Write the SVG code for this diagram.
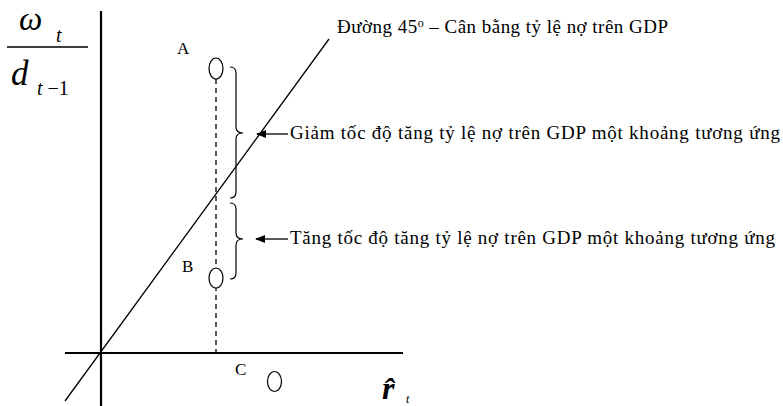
<svg xmlns="http://www.w3.org/2000/svg" width="783" height="406" viewBox="0 0 783 406">
<style>
.lbl{font-family:"Liberation Serif",serif;font-size:19px;fill:#000}
.pt{font-family:"Liberation Serif",serif;font-size:17px;fill:#000}
.math{font-family:"Liberation Serif",serif;font-style:italic;fill:#000}
.thin{stroke:#000;stroke-width:1.3;fill:none}
.axis{stroke:#000;stroke-width:2.2;fill:none}
.brace{stroke:#000;stroke-width:1.2;fill:none}
.node{stroke:#000;stroke-width:1.2;fill:#fff}
</style>
<defs>
<marker id="ah" markerWidth="10" markerHeight="8" refX="9" refY="4" orient="auto" markerUnits="userSpaceOnUse">
<path d="M0,0 L10,4 L0,8 Z" fill="#000"/>
</marker>
</defs>
<g id="connectors">
<line class="axis" x1="101" y1="11" x2="101" y2="406"/>
<line class="axis" x1="65" y1="353" x2="403" y2="353"/>
<line class="thin" x1="65" y1="401" x2="329" y2="39"/>
<line class="thin" x1="216" y1="79" x2="216" y2="352" stroke-dasharray="5,4"/>
<path class="brace" d="M230 67 Q236 67 236 73 L236 127 Q236 133 243 133 Q236 133 236 139 L236 192 Q236 198 230 198"/>
<path class="brace" d="M230 203 Q236 203 236 209 L236 233 Q236 239 243 239 Q236 239 236 245 L236 273 Q236 279 230 279"/>
<line class="thin" x1="288" y1="134" x2="257" y2="134" marker-end="url(#ah)"/>
<line class="thin" x1="288" y1="239" x2="256" y2="239" marker-end="url(#ah)"/>
</g>
<g id="axis-y-label">
<text class="math" x="19" y="30" font-size="33">ω</text>
<text class="math" x="56" y="42" font-size="20">t</text>
<line x1="7" y1="47" x2="88" y2="47" stroke="#000" stroke-width="1.5"/>
<text class="math" x="11" y="85" font-size="35">d</text>
<text class="math" x="37" y="95" font-size="20">t<tspan font-style="normal"> −1</tspan></text>
</g>
<g id="axis-x-label">
<text class="math" x="382" y="399" font-size="32" font-weight="bold">r&#770;</text>
<text class="math" x="406" y="403" font-size="12">t</text>
</g>
<g id="nodeA">
<ellipse class="node" cx="216" cy="68.5" rx="7" ry="10.5"/>
<text class="pt" x="177" y="54">A</text>
</g>
<g id="nodeB">
<ellipse class="node" cx="216" cy="278" rx="7" ry="10"/>
<text class="pt" x="182" y="272">B</text>
</g>
<g id="nodeC">
<ellipse class="node" cx="274.5" cy="381.5" rx="7" ry="10"/>
<text class="pt" x="235" y="375">C</text>
</g>
<g id="label-45">
<text class="lbl" x="337" y="33" textLength="331" lengthAdjust="spacing">Đường 45<tspan font-size="12" dy="-6">o</tspan><tspan dy="6"> – Cân bằng tỷ lệ nợ trên GDP</tspan></text>
</g>
<g id="label-giam">
<text class="lbl" x="290" y="139" textLength="490" lengthAdjust="spacing">Giảm tốc độ tăng tỷ lệ nợ trên GDP một khoảng tương ứng</text>
</g>
<g id="label-tang">
<text class="lbl" x="290" y="244" textLength="485" lengthAdjust="spacing">Tăng tốc độ tăng tỷ lệ nợ trên GDP một khoảng tương ứng</text>
</g>
</svg>
